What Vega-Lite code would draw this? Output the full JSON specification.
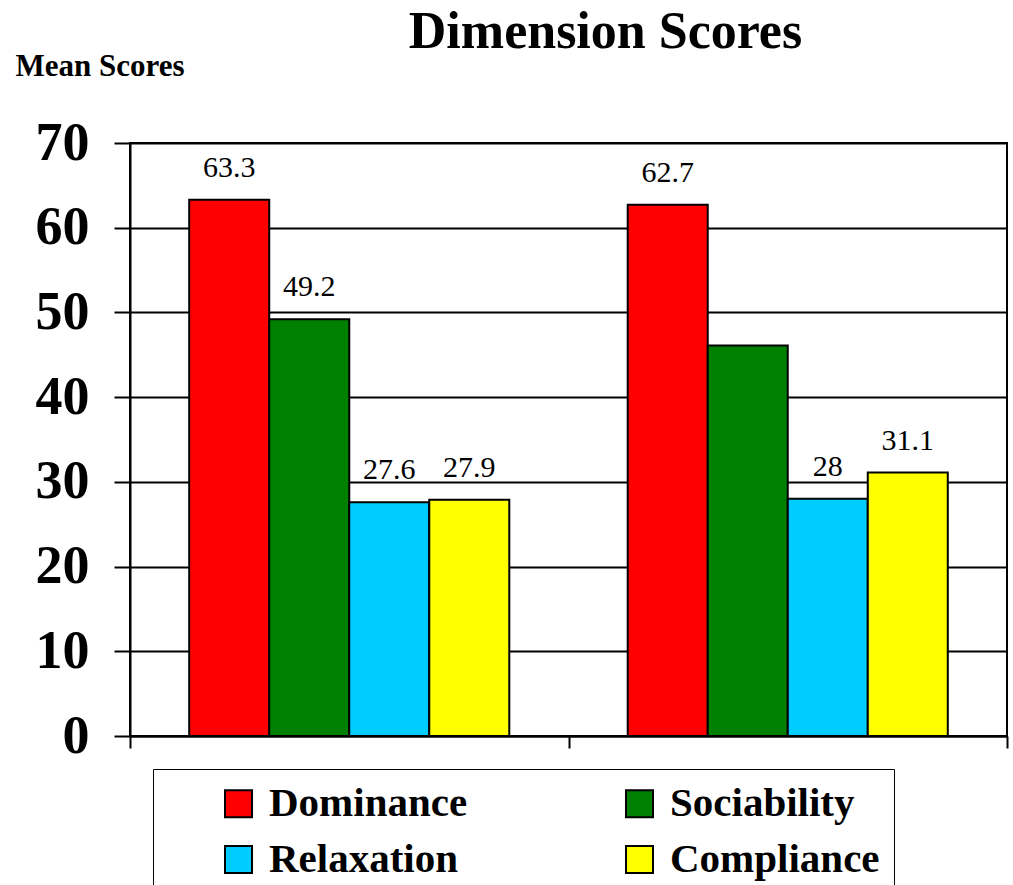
{
  "$schema": "https://vega.github.io/schema/vega-lite/v6.json",
  "width": 877,
  "height": 593,
  "autosize": {"type": "none"},
  "padding": {"left": 130, "top": 143, "right": 6, "bottom": 149},
  "background": "white",
  "config": {"view": {"stroke": "black", "strokeWidth": 2}, "font": "Liberation Serif"},
  "title": {"text": "Dimension Scores", "font": "Liberation Serif", "fontSize": 52, "fontWeight": "bold", "color": "black", "anchor": "middle", "dx": 37, "offset": -50, "baseline": "alphabetic"},
  "data": {"values": [
    {"group": "A", "dimension": "Dominance", "score": 63.3, "label": "63.3"},
    {"group": "A", "dimension": "Sociability", "score": 49.2, "label": "49.2"},
    {"group": "A", "dimension": "Relaxation", "score": 27.6, "label": "27.6"},
    {"group": "A", "dimension": "Compliance", "score": 27.9, "label": "27.9"},
    {"group": "B", "dimension": "Dominance", "score": 62.7, "label": "62.7"},
    {"group": "B", "dimension": "Sociability", "score": 46.1, "label": ""},
    {"group": "B", "dimension": "Relaxation", "score": 28.0, "label": "28"},
    {"group": "B", "dimension": "Compliance", "score": 31.1, "label": "31.1"}
  ]},
  "encoding": {
    "x": {"field": "group", "type": "nominal", "scale": {"paddingInner": 0, "paddingOuter": 0},
      "axis": {"labels": false, "title": null, "domainColor": "black", "domainWidth": 2, "tickColor": "black", "tickWidth": 2, "tickSize": 12, "tickBand": "extent"}},
    "xOffset": {"field": "dimension", "type": "nominal", "sort": ["Dominance", "Sociability", "Relaxation", "Compliance"], "scale": {"paddingInner": 0, "paddingOuter": 0.74}},
    "y": {"field": "score", "type": "quantitative", "scale": {"domain": [0, 70]},
      "axis": {"values": [0, 10, 20, 30, 40, 50, 60, 70], "grid": true, "gridColor": "black", "gridWidth": 2, "gridOpacity": 1,
        "domainColor": "black", "domainWidth": 2, "tickColor": "black", "tickWidth": 2, "tickSize": 16,
        "labelFont": "Liberation Serif", "labelFontWeight": "bold", "labelFontSize": 54, "labelColor": "black", "labelPadding": 25,
        "title": "Mean Scores", "titleAngle": 0, "titleAlign": "left", "titleBaseline": "alphabetic", "titleX": -115, "titleY": -68,
        "titleFont": "Liberation Serif", "titleFontSize": 31, "titleFontWeight": "bold", "titleColor": "black"}}
  },
  "layer": [
    {"mark": {"type": "bar", "stroke": "black", "strokeWidth": 2},
     "encoding": {"color": {"field": "dimension", "type": "nominal",
       "scale": {"domain": ["Dominance", "Sociability", "Relaxation", "Compliance"], "range": ["#FF0000", "#008000", "#00CCFF", "#FFFF00"]},
       "legend": {"orient": "none", "legendX": 23, "legendY": 626, "direction": "horizontal", "columns": 2, "title": null,
         "symbolType": "square", "symbolSize": 729, "symbolStrokeColor": "black", "symbolStrokeWidth": 2, "symbolOffset": 51, "symbolOpacity": 1,
         "labelFont": "Liberation Serif", "labelFontSize": 41, "labelFontWeight": "bold", "labelColor": "black", "labelOffset": 10, "labelLimit": 500,
         "columnPadding": 100, "rowPadding": 14, "padding": 14, "strokeColor": "black"}}}},
    {"mark": {"type": "text", "dy": -23, "baseline": "alphabetic", "fontSize": 30, "font": "Liberation Serif", "color": "black"},
     "encoding": {"text": {"field": "label"}}}
  ]
}
